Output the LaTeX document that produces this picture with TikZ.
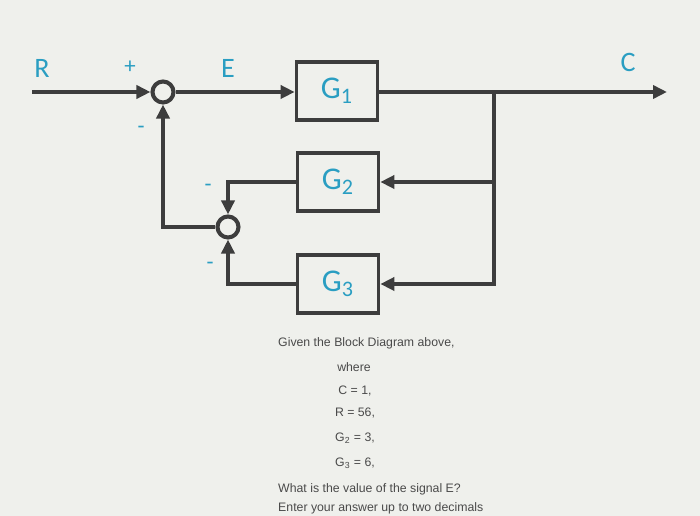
\documentclass[tikz,border=0pt]{standalone}
\usepackage{fontspec}
\usepackage{tikz}
\usetikzlibrary{arrows.meta,positioning}
\newfontfamily\lblfont{Carlito}
\newfontfamily\qfont{Liberation Sans}
\definecolor{wire}{HTML}{3D3D3D}
\definecolor{lblblue}{HTML}{2A9EC2}
\definecolor{paper}{HTML}{EFF0EC}
\definecolor{qtext}{HTML}{4A4A4A}

\begin{document}
\begin{tikzpicture}[
        x=0.02cm, y=-0.02cm,
        block/.style={
            draw=wire,
            line width=2.1pt,
            fill=paper,
            minimum width=1.62cm,
            minimum height=1.16cm,
            font=\lblfont\fontsize{18}{20}\selectfont,
            text=lblblue
        },
        sum/.style={
            draw=wire,
            line width=2.3pt,
            circle,
            fill=paper,
            minimum size=0.42cm,
            inner sep=0pt
        },
        signal/.style={font=\lblfont\fontsize{16}{18}\selectfont, text=lblblue},
        sign/.style={font=\lblfont\fontsize{13}{15}\selectfont, text=lblblue},
        wireline/.style={draw=wire, line width=2.4pt},
        arrow/.style={wireline, -{Triangle[length=0.28cm,width=0.26cm]}},
        qline/.style={font=\qfont\fontsize{7}{8}\selectfont, text=qtext}
    ]
        \fill[paper] (0,0) rectangle (700,516);
        \useasboundingbox (0,0) rectangle (700,516);

        \node[block] (G1) at (337,91) {G\textsubscript{1}};
        \node[block] (G2) at (338,182) {G\textsubscript{2}};
        \node[block] (G3) at (338,284) {G\textsubscript{3}};

        \node[sum] (sum1) at (163,92) {};
        \node[sum] (sum2) at (228,227) {};

        \coordinate (in) at (32,92);
        \coordinate (out) at (667,92);
        \coordinate (branch) at (494,92);

        % forward path
        \draw[arrow] (in) -- (sum1.west);
        \draw[arrow] (sum1.east) -- (sum1.east -| G1.west);
        \draw[arrow] (G1.east |- branch) -- (out);

        % feedback paths
        \draw[arrow] (branch) |- (G3.east);
        \draw[arrow] (branch |- G2.east) -- (G2.east);
        \draw[arrow] (G2.west) -| (sum2.north);
        \draw[arrow] (G3.west) -| (sum2.south);
        \draw[arrow] (sum2.west) -| (sum1.south);

        % labels
        \node[signal] (lblR) at (42,68) {R};
        \node[signal] (lblE) at (228,68) {E};
        \node[signal] (lblC) at (628,62) {C};
        \node[sign] (plus) at (130,67) {+};
        \foreach \name/\pos in {m1/{(141,130)},m2/{(208,188)},m3/{(210,266)}} {
            \node[sign] (\name) at \pos {-};
        }

        % question text
        \node[qline, anchor=west] (q1) at (272,343) {Given the Block Diagram above,};
        \node[qline] (q2) at (354,367) {where};
        \node[qline] (q3) at (355,391) {C = 1,};
        \node[qline] (q4) at (355,413) {R = 56,};
        \node[qline] (q5) at (355,438) {G\textsubscript{2} = 3,};
        \node[qline] (q6) at (355,463) {G\textsubscript{3} = 6,};
        \node[qline, anchor=west] (q7) at (272,489) {What is the value of the signal E?};
        \node[qline, anchor=west] (q8) at (272,508) {Enter your answer up to two decimals};
    \end{tikzpicture}
\end{document}
